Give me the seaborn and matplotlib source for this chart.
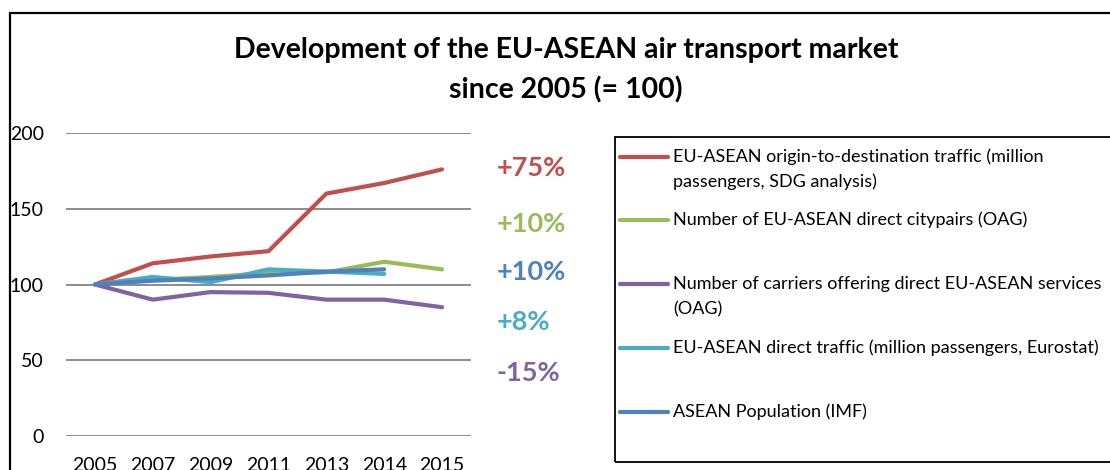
import numpy as np
import pandas as pd
import matplotlib
matplotlib.use('Agg')
import matplotlib.pyplot as plt
import seaborn as sns
from matplotlib.patches import Rectangle
from matplotlib.lines import Line2D

# ========================
# DATA (index, 2005 = 100)
# ========================
years = ['2005', '2007', '2009', '2011', '2013', '2014', '2015']

od_traffic     = [100, 114, 118.5, 122, 160, 167, 176]
citypairs      = [100, 103, 105, 107.5, 108, 115, 110]
carriers       = [100, 90, 95, 94.5, 90, 90, 85]
direct_traffic = [100, 105, 101.5, 110, 108.5, 107, np.nan]
population     = [100, 102.5, 104, 106, 108.5, 110, np.nan]

series_names = [
    'EU-ASEAN origin-to-destination traffic (million\npassengers, SDG analysis)',
    'Number of EU-ASEAN direct citypairs (OAG)',
    'Number of carriers offering direct EU-ASEAN services\n(OAG)',
    'EU-ASEAN direct traffic (million passengers, Eurostat)',
    'ASEAN Population (IMF)',
]
growth_labels = ['+75%', '+10%', '+10%', '+8%', '-15%']

colors = ['#C0504D', '#9BBB59', '#8064A2', '#4BACC6', '#4F81BD']
growth_colors = ['#C0504D', '#9BBB59', '#4F81BD', '#4BACC6', '#8064A2']

# long table for seaborn
all_values = [od_traffic, citypairs, carriers, direct_traffic, population]
df = pd.concat([
    pd.DataFrame({'pos': np.arange(len(years)), 'value': vals, 'series': name})
    for name, vals in zip(series_names, all_values)
], ignore_index=True).dropna()

# ========================
# FIGURE
# ========================
sns.set_style('white')
plt.rcParams['font.family'] = ['Lato', 'DejaVu Sans']

W, H = 1110, 470
fig = plt.figure(figsize=(W / 100, H / 100), dpi=100)

def fx(px):
    return px / W

def fy(py):
    return 1 - py / H

ax = fig.add_axes([fx(66), fy(436), fx(471) - fx(66), fy(133) - fy(436)])

sns.lineplot(data=df, x='pos', y='value', hue='series', hue_order=series_names,
             palette=colors, linewidth=3, legend=False, sort=False, ax=ax,
             solid_joinstyle='round', solid_capstyle='round')

ax.set_xlim(-0.5, 6.5)
ax.set_ylim(0, 200)
ax.set_yticks([0, 50, 100, 150, 200])
ax.set_xticks(np.arange(len(years)))
ax.set_xticklabels(years)
ax.set_xlabel('')
ax.set_ylabel('')
ax.grid(axis='y', color='#8c8c8c', linewidth=1.4)
ax.set_axisbelow(True)
for s in ax.spines.values():
    s.set_visible(False)
ax.tick_params(axis='y', labelsize=14, pad=16, length=0, labelcolor='black')
ax.tick_params(axis='x', labelsize=14, pad=15, length=0, labelcolor='black')

# title
fig.text(fx(566), fy(50), 'Development of the EU-ASEAN air transport market',
         ha='center', va='center', fontsize=20.5, fontweight='bold', color='black')
fig.text(fx(566), fy(90), 'since 2005 (= 100)',
         ha='center', va='center', fontsize=20.5, fontweight='bold', color='black')

# growth annotations
growth_y = [168, 224, 272, 322, 373]
for lbl, c, y in zip(growth_labels, growth_colors, growth_y):
    fig.text(fx(497), fy(y), lbl, ha='left', va='center', fontsize=19.5,
             fontweight='bold', color=c)

# legend box (drawn by hand, Excel style)
fig.patches.append(Rectangle((fx(615), fy(462)), 1, fy(137) - fy(462),
                             transform=fig.transFigure, fill=False,
                             edgecolor='black', linewidth=1.3, clip_on=False))
entry_y = [157, 220, 284, 348, 412]
for name, c, y in zip(series_names, colors, entry_y):
    fig.lines.append(Line2D([fx(620), fx(668)], [fy(y), fy(y)],
                            transform=fig.transFigure, color=c, linewidth=3))
    for i, line in enumerate(name.split('\n')):
        fig.text(fx(673), fy(y + i * 25), line, ha='left', va='center',
                 fontsize=13, color='black')

# outer frame
fig.patches.append(Rectangle((fx(10), -0.1), 1.2, fy(13) + 0.1,
                             transform=fig.transFigure, fill=False,
                             edgecolor='black', linewidth=1.6, clip_on=False))

fig.savefig('out.png', dpi=100)
